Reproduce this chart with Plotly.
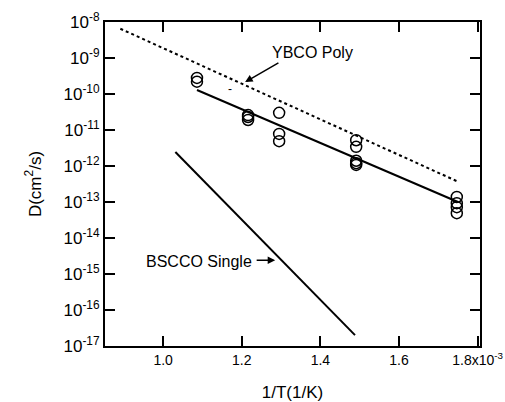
import plotly.graph_objects as go
import numpy as np

# Data (x in units of 1e-3 1/K)
circ_x = [1.086, 1.086, 1.216, 1.216, 1.216, 1.295, 1.295, 1.295,
          1.491, 1.491, 1.491, 1.491, 1.491, 1.747, 1.747, 1.747, 1.747]
circ_y = [2.8e-10, 2.2e-10, 2.6e-11, 2.3e-11, 1.9e-11, 3.0e-11, 7.8e-12, 4.9e-12,
          5.2e-12, 3.4e-12, 1.4e-12, 1.2e-12, 1.07e-12, 1.38e-13, 9.3e-14, 7.2e-14, 4.9e-14]

fit_x = [1.086, 1.75]
fit_y = [1.29e-10, 1.0e-13]

ybco_x = [0.891, 1.747]
ybco_y = [6.5e-9, 3.8e-13]

bscco_x = [1.031, 1.488]
bscco_y = [2.45e-12, 2.0e-17]

xtick_vals = [1.0, 1.2, 1.4, 1.6, 1.8]
xtick_text = ["1.0", "1.2", "1.4", "1.6", "1.8x10<sup>-3</sup>"]
ytick_exp = list(range(-17, -7))

fig = go.Figure()
fig.add_trace(go.Scatter(x=ybco_x, y=ybco_y, mode="lines",
                         line=dict(color="black", width=2, dash="dot")))
fig.add_trace(go.Scatter(x=fit_x, y=fit_y, mode="lines",
                         line=dict(color="black", width=2)))
fig.add_trace(go.Scatter(x=bscco_x, y=bscco_y, mode="lines",
                         line=dict(color="black", width=2)))
fig.add_trace(go.Scatter(x=circ_x, y=circ_y, mode="markers",
                         marker=dict(symbol="circle-open", size=11, color="black",
                                     line=dict(width=1.5, color="black"))))

font = "Liberation Sans, Arial, sans-serif"
fig.add_annotation(x=1.38, y=np.log10(1.4e-9), xref="x", yref="y", text="YBCO Poly",
                   showarrow=False, font=dict(size=16, family=font, color="black"))
fig.add_annotation(x=1.2085, y=-9.667, ax=1.297, ay=-9.11, xref="x", yref="y",
                   axref="x", ayref="y", text="", showarrow=True, arrowhead=2,
                   arrowsize=1, arrowwidth=1.5, arrowcolor="black")
fig.add_annotation(x=1.0915, y=-14.64, xref="x", yref="y", text="BSCCO Single",
                   showarrow=False, font=dict(size=16, family=font, color="black"))
fig.add_annotation(x=1.285, y=-14.62, ax=1.234, ay=-14.62, xref="x", yref="y",
                   axref="x", ayref="y", text="", showarrow=True, arrowhead=2,
                   arrowsize=1, arrowwidth=1.5, arrowcolor="black")
fig.add_annotation(x=1.17, y=-9.86, xref="x", yref="y", text="-",
                   showarrow=False, font=dict(size=12, family=font, color="black"))

fig.update_layout(
    width=505, height=402, showlegend=False,
    paper_bgcolor="white", plot_bgcolor="white",
    margin=dict(l=105, r=25, t=22, b=56),
    font=dict(family=font, size=14, color="black"),
    xaxis=dict(range=[0.852, 1.806], tickvals=xtick_vals, ticktext=xtick_text,
               tickfont=dict(size=14), automargin=False, ticklabeloverflow="allow",
               ticks="inside", ticklen=10, tickwidth=2, tickcolor="black",
               showline=True, linewidth=2, linecolor="black", mirror="allticks",
               showgrid=False, zeroline=False,
               title=dict(text="1/T(1/K)", font=dict(size=17), standoff=32)),
    yaxis=dict(type="log", range=[-17, -8],
               tickvals=[10.0 ** e for e in ytick_exp],
               ticktext=["10<sup>%d</sup>" % e for e in ytick_exp],
               tickfont=dict(size=17), automargin=False, ticklabeloverflow="allow",
               ticks="inside", ticklen=10, tickwidth=2, tickcolor="black",
               showline=True, linewidth=2, linecolor="black", mirror="allticks",
               showgrid=False, zeroline=False,
               title=dict(text="D(cm<sup>2</sup>/s)", font=dict(size=17), standoff=18)),
)
fig.write_html("out.html")
